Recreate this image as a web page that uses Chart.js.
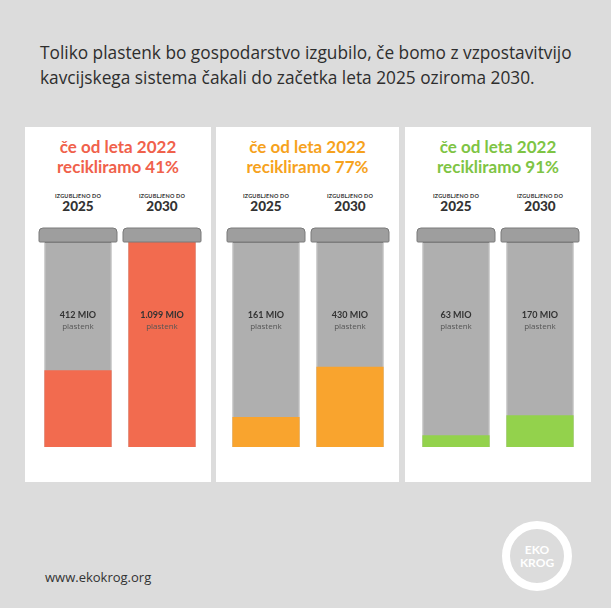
<!DOCTYPE html>
<html><head><meta charset="utf-8">
<script src="https://cdn.jsdelivr.net/npm/chart.js@4/dist/chart.umd.min.js"></script>
<style>
body{margin:0;width:611px;height:608px;background:#dcdcdc;font-family:"Open Sans",sans-serif;position:relative;overflow:hidden}
#t{position:absolute;left:40px;top:40px;width:570px;font-size:17.3px;line-height:25px;color:#2e2e2e;white-space:nowrap}
.p{position:absolute;top:127px;height:355px;background:#fff}
.h{position:absolute;top:10px;left:0;right:0;text-align:center;font-weight:bold;font-size:17px;line-height:20px;font-family:"Lato",sans-serif}
.y{position:absolute;top:66px;width:84px;text-align:center;color:#333;font-family:"Lato",sans-serif;font-weight:bold}
.y small{display:block;font-size:5.5px;letter-spacing:.2px}
.y b{display:block;font-size:13.5px;line-height:15px}
canvas{position:absolute}
#f{position:absolute;left:45px;top:568px;font-size:13px;color:#333}
#logo{position:absolute;left:502px;top:521px;width:54px;height:54px;border:8px solid #fff;border-radius:50%;color:#fff;font-weight:bold;font-size:12px;line-height:13px;text-align:center;display:flex;align-items:center;justify-content:center;font-family:"Lato",sans-serif}
</style></head><body>
<div id="t">Toliko plastenk bo gospodarstvo izgubilo, če bomo z vzpostavitvijo<br>kavcijskega sistema čakali do začetka leta 2025 oziroma 2030.</div>
<div id="f">www.ekokrog.org</div>
<div id="logo">EKO<br>KROG</div>
<script>
const categories=['2025','2030'];
const rates=['41%','77%','91%'];
const lost=[[412,1099],[161,430],[63,170]];
const valueLabels=[['412 MIO','1.099 MIO'],['161 MIO','430 MIO'],['63 MIO','170 MIO']];
const maxValue=1099;
const fillColors=['#f26b4f','#f9a42e','#93d24c'];
const titleColors=['#f0614b','#f6a21d','#7ec444'];
const panels=[{l:25,w:186},{l:216,w:183},{l:405,w:186}];
const canvasLeft=[36,224,414];

const lidPlugin={id:'lid',afterDatasetsDraw(c){
  const ctx=c.ctx, meta=c.getDatasetMeta(1), ys=c.scales.y;
  meta.data.forEach((b,i)=>{
    ctx.save();
    ctx.fillStyle='#9e9e9e';ctx.strokeStyle='#7a7a7a';ctx.lineWidth=1;
    ctx.beginPath();ctx.roundRect(b.x-39,b.y-14,78,14,[4,4,1,1]);ctx.fill();ctx.stroke();
    const y=ys.getPixelForValue(690);
    ctx.textAlign='center';
    ctx.fillStyle='#333';ctx.font='bold 9px Lato';ctx.fillText(c.options.plugins.lid.labels[i],b.x,y);
    ctx.fillStyle='#555';ctx.font='8px "Open Sans"';ctx.fillText('plastenk',b.x,y+11);
    ctx.restore();
  });
}};

panels.forEach((p,k)=>{
  const d=document.createElement('div');d.className='p';d.style.left=p.l+'px';d.style.width=p.w+'px';
  d.innerHTML=`<div class="h" style="color:${titleColors[k]}">če od leta 2022<br>recikliramo ${rates[k]}</div>`+
   categories.map((c,i)=>`<div class="y" style="left:${canvasLeft[k]-p.l+i*84}px"><small>IZGUBLJENO DO</small><b>${c}</b></div>`).join('');
  document.body.appendChild(d);
  const cv=document.createElement('canvas');
  cv.style.left=canvasLeft[k]+'px';cv.style.top='226px';cv.style.width='168px';cv.style.height='222px';
  document.body.appendChild(cv);
  new Chart(cv,{type:'bar',plugins:[lidPlugin],
    data:{labels:categories,datasets:[
      {data:lost[k],backgroundColor:fillColors[k],grouped:false,order:0,barPercentage:0.8,categoryPercentage:1},
      {data:[maxValue,maxValue],backgroundColor:'#afafaf',borderColor:'#808080',borderWidth:1,grouped:false,order:1,barPercentage:0.8,categoryPercentage:1}
    ]},
    options:{responsive:false,animation:false,layout:{padding:{top:16,bottom:1}},
      scales:{x:{display:false},y:{display:false,min:0,max:maxValue}},
      plugins:{legend:{display:false},tooltip:{enabled:false},lid:{labels:valueLabels[k]}}}
  });
});
</script></body></html>
